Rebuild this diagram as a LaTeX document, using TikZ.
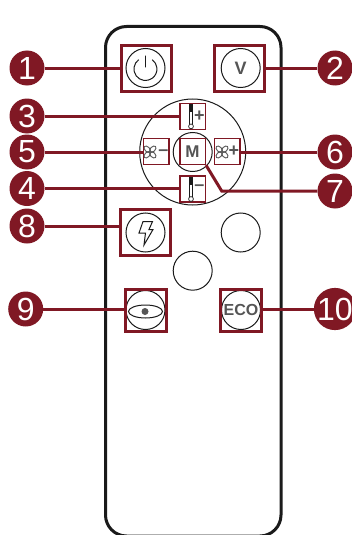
\documentclass[tikz,border=0pt]{standalone}
\usepackage{fontspec}
\setmainfont{Liberation Sans}
\usetikzlibrary{calc}
\definecolor{MarkRed}{RGB}{128,24,36}
\definecolor{CaseBlack}{RGB}{26,26,26}
\definecolor{KeyGrey}{RGB}{85,85,85}
\tikzset{
  numdot/.style={circle,fill=MarkRed,text=white,minimum size=35pt,inner sep=0pt,font=\fontsize{32}{32}\selectfont},
  keyring/.style={circle,draw=CaseBlack,line width=1pt,minimum size=39pt,inner sep=0pt,text=KeyGrey,font=\bfseries\fontsize{18}{18}\selectfont},
  bigbox/.style={draw=MarkRed,line width=3pt,minimum width=50pt,minimum height=46pt,inner sep=0pt},
  midbox/.style={draw=MarkRed,line width=3pt,minimum width=41pt,minimum height=42pt,inner sep=0pt},
  tinybox/.style={draw=MarkRed,line width=1.5pt,minimum width=25.5pt,minimum height=26pt,inner sep=0pt,text=KeyGrey,font=\bfseries\fontsize{17}{17}\selectfont},
  signmark/.style={text=KeyGrey,inner sep=0pt,font=\bfseries\fontsize{18}{18}\selectfont},
  lead/.style={MarkRed,line width=3pt},
  glyph/.style={CaseBlack,line width=1pt}
}
% fan glyph: four blades round a point
\newcommand{\fanglyph}[1]{%
  \foreach \ang in {45,135,225,315}
    \draw[KeyGrey,line width=0.9pt,rotate around={\ang:(#1)}] ($(#1)+(3.9,0)$) ellipse (3.9 and 2.4);
}
% thermometer glyph: tube and bulb
\newcommand{\thermoglyph}[1]{%
  \draw[CaseBlack,line width=0.6pt] ($(#1)+(-1.3,-12)$) -- ($(#1)+(-1.3,8)$) ($(#1)+(1.3,-12)$) -- ($(#1)+(1.3,8)$);
  \draw[CaseBlack,line width=0.7pt,fill=white] ($(#1)+(0,10)$) circle (2.4);
  \fill[CaseBlack] ($(#1)+(-1.3,-12)$) rectangle ($(#1)+(1.3,-4)$);
}

\begin{document}
\begin{tikzpicture}[x=1pt,y=-1pt]
  \useasboundingbox (0,0) rectangle (352,535);
  % case
  \draw[CaseBlack,line width=3pt,rounded corners=21pt] (105.5,26.5) rectangle (281,536);
  % keys on the case
  \node[keyring] (powerkey) at (145.5,68) {};
  \node[keyring] (vkey) at (240.7,68) {V};
  \node[circle,draw=CaseBlack,line width=1pt,minimum size=106pt,inner sep=0pt] (padring) at (192.7,152) {};
  \node[keyring] (modekey) at (192.7,152) {};
  \node[keyring] (flashkey) at (145.5,232.5) {};
  \node[keyring] (blankone) at (240.7,232.5) {};
  \node[keyring] (blanktwo) at (192.7,270.7) {};
  \node[keyring] (eyekey) at (145.5,310) {};
  \node[keyring,font=\bfseries\fontsize{16}{16}\selectfont] (ecokey) at (241,310) {ECO};
  % red frames
  \node[bigbox] (powerbox) at (146,68.5) {};
  \node[bigbox] (vbox) at (239.5,68.5) {};
  \node[bigbox] (flashbox) at (145.5,232.5) {};
  \node[midbox] (eyebox) at (146,310.5) {};
  \node[midbox] (ecobox) at (241,310.5) {};
  \node[tinybox] (tempup) at (192.5,116.4) {};
  \node[tinybox] (tempdown) at (192.5,189) {};
  \node[tinybox] (fandown) at (156,151.4) {};
  \node[tinybox] (fanup) at (227,151.4) {};
  \node[tinybox] (modebox) at (192.5,151.4) {M};
  % glyphs
  \draw[glyph,line cap=round] (145.5,56) -- (145.5,67);
  \draw[glyph] (138.7,59.7) arc[start angle=-126,end angle=-414,radius=11.5];
  \draw[glyph,line join=miter] (143,221.5) -- (152.5,221.5) -- (149,229.5) -- (153,229.5) -- (144,245) -- (145.5,233) -- (139,233) -- cycle;
  \draw[glyph] (145.5,311.5) ellipse (17 and 6.5);
  \fill[KeyGrey] (145,311.5) circle (3.5);
  \thermoglyph{191,116.4}
  \thermoglyph{191,189}
  \fanglyph{150,152}
  \fanglyph{222,152}
  \node[signmark] (tempupmark) at (199.5,116.5) {+};
  \node[signmark] (tempdownmark) at (199.5,188) {--};
  \node[signmark] (fandownmark) at (163.5,152.5) {--};
  \node[signmark] (fanupmark) at (234,151) {+};
  % numbers
  \node[numdot] (numone) at (27,68) {1};
  \node[numdot] (numtwo) at (335,68) {2};
  \node[numdot] (numthree) at (27,116) {3};
  \node[numdot] (numfive) at (27,152) {5};
  \node[numdot] (numfour) at (27,188.5) {4};
  \node[numdot] (numsix) at (335,152) {6};
  \node[numdot] (numseven) at (335,191) {7};
  \node[numdot] (numeight) at (27,226) {8};
  \node[numdot] (numnine) at (25.7,309) {9};
  \node[numdot] (numten) at (335,309) {10};
  % leads
  \draw[lead] (numone.east) -- (numone.east -| powerbox.west);
  \draw[lead] (numtwo.west) -- (numtwo.west -| vbox.east);
  \draw[lead] (numthree.east) -- (numthree.east -| tempup.west);
  \draw[lead] (numfive.east) -- (numfive.east -| fandown.west);
  \draw[lead] (numfour.east) -- (numfour.east -| tempdown.west);
  \draw[lead] (numsix.west) -- (numsix.west -| fanup.east);
  \draw[lead] (numseven.west) -- (221.7,191) -- (modebox.south east);
  \draw[lead] (numeight.east) -- (numeight.east -| flashbox.west);
  \draw[lead] (numnine.east) -- (numnine.east -| eyebox.west);
  \draw[lead] (numten.west) -- (numten.west -| ecobox.east);
\end{tikzpicture}
\end{document}
